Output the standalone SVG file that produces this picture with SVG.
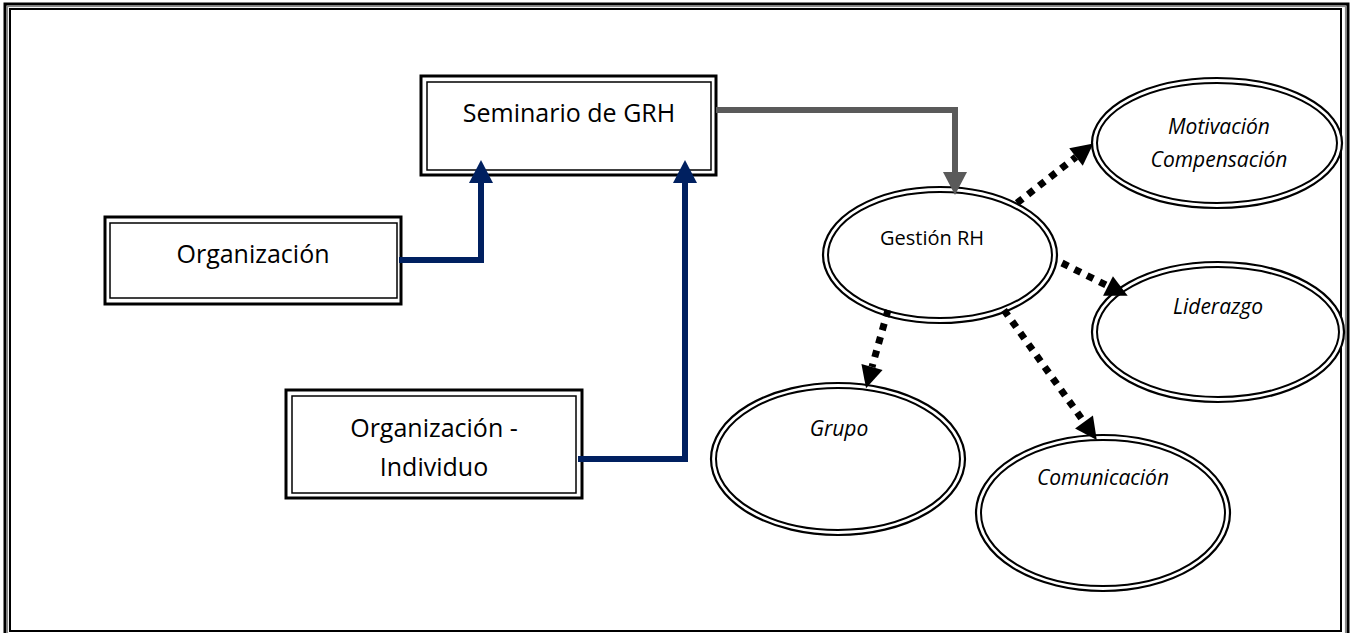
<svg xmlns="http://www.w3.org/2000/svg" width="1354" height="633" viewBox="0 0 1354 633">
<style>
.bo{fill:#fff;stroke:#000;stroke-width:3}
.bi{fill:none;stroke:#000;stroke-width:1.5}
.eo{fill:#fff;stroke:#000;stroke-width:2.2}
.ei{fill:none;stroke:#000;stroke-width:2}
.t{font-family:"Open Sans","Liberation Sans",sans-serif;font-size:25px;fill:#000;text-anchor:middle}
.tg{font-family:"Open Sans","Liberation Sans",sans-serif;font-size:20px;fill:#000;text-anchor:middle}
.ti{font-family:"Open Sans","Liberation Sans",sans-serif;font-size:21px;font-style:italic;fill:#000;text-anchor:middle}
.nv{fill:none;stroke:#002060;stroke-width:6}
.gr{fill:none;stroke:#5a5a5a;stroke-width:6}
.dt{fill:none;stroke:#000;stroke-width:7;stroke-dasharray:7 7}
</style>
<defs>
<marker id="an" markerUnits="userSpaceOnUse" markerWidth="24" markerHeight="26" refX="0" refY="12" orient="auto" overflow="visible"><path d="M0,0 L23,12 L0,24 z" fill="#002060"/></marker>
<marker id="ag" markerUnits="userSpaceOnUse" markerWidth="24" markerHeight="26" refX="0" refY="12" orient="auto" overflow="visible"><path d="M0,0 L23,12 L0,24 z" fill="#5a5a5a"/></marker>
<marker id="ab" markerUnits="userSpaceOnUse" markerWidth="24" markerHeight="24" refX="0" refY="11" orient="auto" overflow="visible"><path d="M0,0 L22,11 L0,22 z" fill="#000"/></marker>
</defs>
<rect width="1354" height="633" fill="#fff"/>
<g id="frame">
<rect x="5" y="4" width="1343" height="650" fill="none" stroke="#000" stroke-width="3"/>
<rect x="7.5" y="6.5" width="1338" height="645" fill="none" stroke="#8a8a8a" stroke-width="1.2"/>
<rect x="10" y="9" width="1331" height="622" fill="none" stroke="#000" stroke-width="2"/>
</g>
<g id="seminario">
<rect class="bo" x="421" y="76" width="295" height="99"/>
<rect class="bi" x="427" y="82" width="284" height="88"/>
<text class="t" x="569" y="122">Seminario de GRH</text>
</g>
<g id="organizacion">
<rect class="bo" x="105" y="217" width="296" height="87"/>
<rect class="bi" x="110" y="223" width="287" height="75"/>
<text class="t" x="253" y="263">Organización</text>
</g>
<g id="org-individuo">
<rect class="bo" x="286" y="390" width="296" height="108"/>
<rect class="bi" x="292" y="396" width="284" height="97"/>
<text class="t" x="434" y="437">Organización -</text>
<text class="t" x="434" y="476">Individuo</text>
</g>
<g id="gestion">
<ellipse class="eo" cx="940" cy="255" rx="117" ry="68"/>
<ellipse class="ei" cx="940" cy="255" rx="112" ry="63"/>
<text class="tg" x="932" y="245">Gestión RH</text>
</g>
<g id="motivacion">
<ellipse class="eo" cx="1217" cy="143" rx="125" ry="65"/>
<ellipse class="ei" cx="1217" cy="143" rx="120" ry="60"/>
<text class="ti" x="1219" y="134">Motivación</text>
<text class="ti" x="1219" y="167">Compensación</text>
</g>
<g id="liderazgo">
<ellipse class="eo" cx="1218" cy="332" rx="126" ry="70"/>
<ellipse class="ei" cx="1218" cy="332" rx="121" ry="65"/>
<text class="ti" x="1218" y="314">Liderazgo</text>
</g>
<g id="grupo">
<ellipse class="eo" cx="838" cy="459" rx="127" ry="76"/>
<ellipse class="ei" cx="838" cy="459" rx="122" ry="71"/>
<text class="ti" x="839" y="436">Grupo</text>
</g>
<g id="comunicacion">
<ellipse class="eo" cx="1103" cy="513" rx="127" ry="78"/>
<ellipse class="ei" cx="1103" cy="513" rx="122" ry="73"/>
<text class="ti" x="1103" y="485">Comunicación</text>
</g>
<g id="connectors">
<polyline class="nv" points="399,260 481,260 481,183" marker-end="url(#an)"/>
<polyline class="nv" points="578,459 685,459 685,183" marker-end="url(#an)"/>
<polyline class="gr" points="716,110 955,110 955,172" marker-end="url(#ag)"/>
<line class="dt" x1="1017" y1="203" x2="1076" y2="157" marker-end="url(#ab)"/>
<line class="dt" x1="1062" y1="263" x2="1108" y2="286" marker-end="url(#ab)"/>
<line class="dt" x1="888" y1="310" x2="872" y2="367" marker-end="url(#ab)"/>
<line class="dt" x1="1004" y1="310" x2="1084" y2="422" marker-end="url(#ab)"/>
</g>
</svg>
